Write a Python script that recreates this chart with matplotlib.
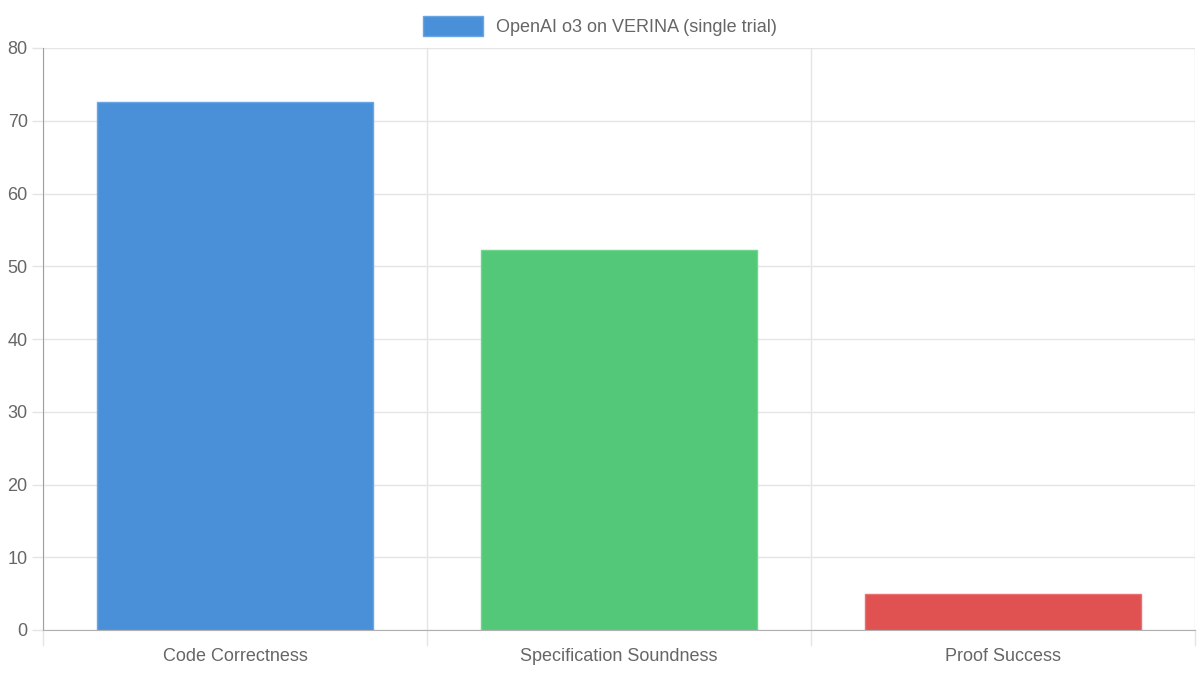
import numpy as np
import matplotlib.pyplot as plt
from matplotlib.patches import Patch

categories = ["Code Correctness", "Specification Soundness", "Proof Success"]
values = [72.6, 52.3, 4.9]
bar_colors = ["#4A90D9", "#52C878", "#E05252"]
edge_colors = ["#6AA5E3", "#6ED48E", "#EA7070"]
series_label = "OpenAI o3 on VERINA (single trial)"

plt.rcParams['font.family'] = ['Liberation Sans', 'DejaVu Sans']
text_color = "#666666"
grid_color = "#E5E5E5"

fig = plt.figure(figsize=(12, 6.75), dpi=100)
ax = fig.add_axes([43/1200, 45/675, 1152/1200, 582/675])

x = np.arange(len(categories))
ax.bar(x, values, width=0.72, color=bar_colors, edgecolor=edge_colors, linewidth=1, zorder=3)

ax.set_xlim(-0.5, len(categories) - 0.5)
ax.set_ylim(0, 80)
ax.set_yticks(np.arange(0, 81, 10))
ax.set_xticks(x)
ax.set_xticklabels(categories)

# grid: horizontal at y ticks, vertical at category boundaries
ax.yaxis.grid(True, color=grid_color, linewidth=1, zorder=0)
for b in np.arange(-0.5, len(categories), 1.0):
    ax.axvline(b, color=grid_color, linewidth=1, zorder=0)
    ax.plot([b, b], [0, -0.025], transform=ax.get_xaxis_transform(), color=grid_color,
            linewidth=1, clip_on=False, zorder=0)

ax.tick_params(axis='x', length=0, pad=13, labelsize=13, labelcolor=text_color)
ax.tick_params(axis='y', length=8, width=1, color=grid_color, pad=3, labelsize=13, labelcolor=text_color)

for side in ["top", "right"]:
    ax.spines[side].set_visible(False)
ax.spines["left"].set_color("#A0A0A0")
ax.spines["bottom"].set_color("#B0B0B0")

handle = Patch(facecolor=bar_colors[0], edgecolor=edge_colors[0])
fig.legend([handle], [series_label], loc="upper center", bbox_to_anchor=(0.5, 1.0),
           frameon=False, fontsize=13, labelcolor=text_color, handlelength=3.3,
           handleheight=1.3, handletextpad=0.7, borderaxespad=0.5)

fig.savefig("out.png", dpi=100, facecolor="white")
